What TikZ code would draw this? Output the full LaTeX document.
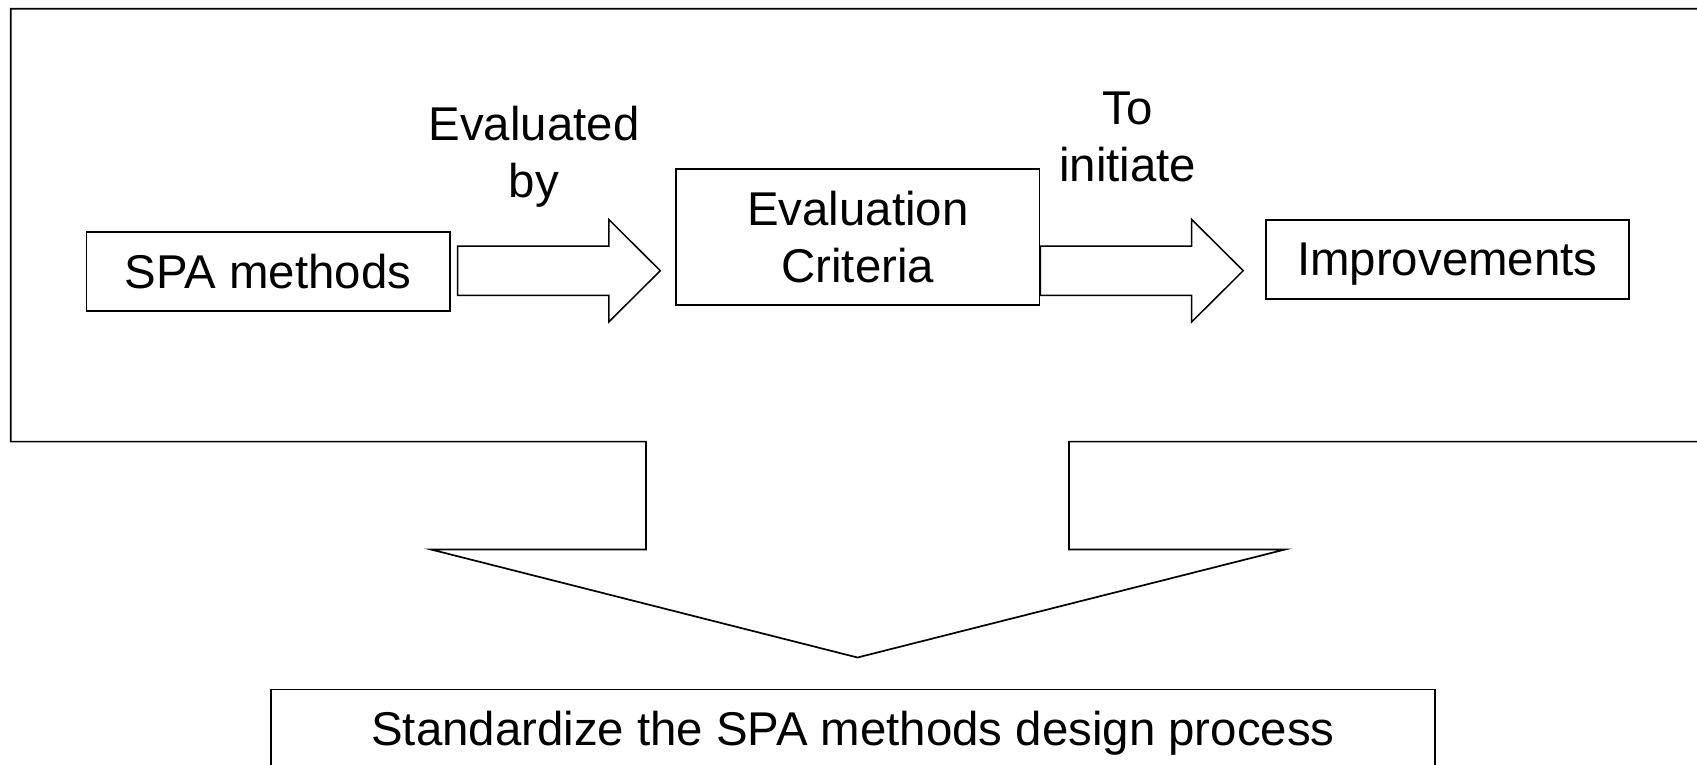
\documentclass[tikz,border=0pt]{standalone}
\usepackage{fontspec}
\setmainfont{Liberation Sans}
\usetikzlibrary{calc}

% hollow block arrow from #1 to the tip #2 (both at the same height)
\newcommand\blockarrowpath[2]{%
  \draw[blockarr] ($(#1)+(0,-24.7)$) -- ($(#2)+(-51.5,-24.7)$)
    -- ($(#2)+(-51.5,-51.2)$) -- (#2) -- ($(#2)+(-51.5,51.2)$)
    -- ($(#2)+(-51.5,24.7)$) -- ($(#1)+(0,24.7)$) -- cycle;}

\begin{document}
\begin{tikzpicture}[x=0.5pt, y=-0.5pt,
  every node/.style={font=\fontsize{23.7}{28.35}\selectfont},
  box/.style={draw, line width=0.9pt, inner sep=0pt, align=center,
              minimum width=181.6pt},
  blockarr/.style={line width=0.75pt, line join=miter},
  frame/.style={line width=0.85pt, line join=miter}]
\useasboundingbox (0,0) rectangle (1697,765);

% outer frame merged with the downward block arrow
\draw[frame] (1702,8.7) -- (10.8,8.7) -- (10.8,441.6) -- (646,441.6)
  -- (646,549.5) -- (431,549.5) -- (857.5,657.5) -- (1285,549.5)
  -- (1069,549.5) -- (1069,441.6) -- (1702,441.6);

% process boxes
\node[box, minimum height=39.5pt, text depth=0pt] (spa) at (268,271.5) {SPA methods};
\node[box, minimum height=67.9pt] (crit) at (857.8,237.1) {Evaluation\\Criteria};
\node[box, minimum height=39.55pt, text depth=0pt] (impr) at (1447.3,259.25) {Improvements};
\node[box, anchor=base, minimum width=582pt, text height=27.75pt, text depth=20pt]
  (std) at (853,745) {Standardize the SPA methods design process};

% arrow labels
\node[align=center] (lbl1) at (534,157) {Evaluated\\by};
\node[align=center] (lbl2) at (1127.7,136.8) {To\\initiate};

% block arrows between the boxes
\coordinate (a1s) at ($(spa.east)+(7,-0.8)$);
\coordinate (a1e) at ($(crit.west |- a1s)+(-15,0)$);
\coordinate (a2s) at (crit.east |- a1s);
\coordinate (a2e) at ($(impr.west |- a1s)+(-21.6,0)$);
\blockarrowpath{a1s}{a1e}
\blockarrowpath{a2s}{a2e}
\end{tikzpicture}
\end{document}
